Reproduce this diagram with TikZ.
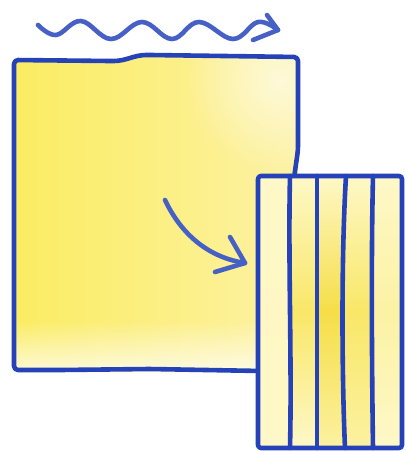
\documentclass[tikz,border=0pt]{standalone}
\usetikzlibrary{fadings}
\definecolor{ink}{HTML}{2642B8}
\definecolor{inkl}{HTML}{4660C6}
\definecolor{yA}{HTML}{FBEC62}
\definecolor{yB}{HTML}{FCF2A4}
\definecolor{yC}{HTML}{FEF9D8}
\definecolor{sP}{HTML}{FEF8C8}
\definecolor{sM}{HTML}{F9E768}
\definecolor{sD}{HTML}{F6DE48}
\tikzfading[name=fadeup, top color=transparent!100, bottom color=transparent!0]
\tikzfading[name=softspot, inner color=transparent!0, outer color=transparent!100]
\begin{document}
\begin{tikzpicture}[x=1pt,y=-1pt,
  inkline/.style={draw=ink, line width=4.6pt, line cap=round, line join=round},
  softline/.style={draw=inkl, line width=4.6pt, line cap=round, line join=round}]
\useasboundingbox (0,0) rectangle (406,452);
% big sheet fill
\begin{scope}
\clip[rounded corners=4pt]
  (14,60) -- (110,61) to[out=0,in=180] (150,55) -- (298,57) -- (298,372) -- (14,372) -- cycle;
\shade[left color=yA, right color=yB] (14,50) rectangle (300,372);
\fill[yC, path fading=softspot, fill opacity=1] (280,80) circle (95);
\fill[white, path fading=fadeup, fill opacity=0.75] (10,320) rectangle (300,372);
\end{scope}
% big sheet outline
\draw[inkline, rounded corners=4pt]
  (262,371) -- (150,369) -- (60,370) -- (14,370) -- (14,60) -- (110,61)
  to[out=0,in=180] (150,55) -- (298,57) -- (298,150) -- (294,178);
% strips fill
\shade[top color=sP, bottom color=sP, middle color=sP!90!yB] (258,175) rectangle (290,448);
\shade[top color=sP, bottom color=sP, middle color=sM] (290,175) rectangle (317,448);
\shade[top color=sP, bottom color=sP!60!sM, middle color=sD] (317,175) rectangle (345,448);
\shade[top color=sP, bottom color=sP!60!sM, middle color=sM] (345,175) rectangle (372,448);
\shade[top color=sP, bottom color=sP, middle color=yB] (372,175) rectangle (402,448);
% strips outline
\draw[inkline, rounded corners=3pt] (258,176) rectangle (402,448);
\draw[inkline] (290,176) .. controls (288,260) and (292,360) .. (290,448);
\draw[inkline] (317,176) -- (317,448);
\draw[inkline] (346,176) .. controls (341,260) and (342,380) .. (345,448);
\draw[inkline] (373,176) .. controls (371,260) and (372,380) .. (373,448);
% wavy arrow
\draw[softline] plot[smooth, tension=0.65] coordinates
  {(38,25) (56,35) (81,21) (111,39) (142,22) (172,39) (199,22) (233,39) (258,22) (278,30)};
\draw[softline] (267,15) -- (278,30) -- (253,40);
% curved arrow
\draw[softline] (165,200) .. controls (183,238) and (212,258) .. (245,263);
\draw[softline] (230,237) -- (245,263) -- (215,272);
\end{tikzpicture}
\end{document}
